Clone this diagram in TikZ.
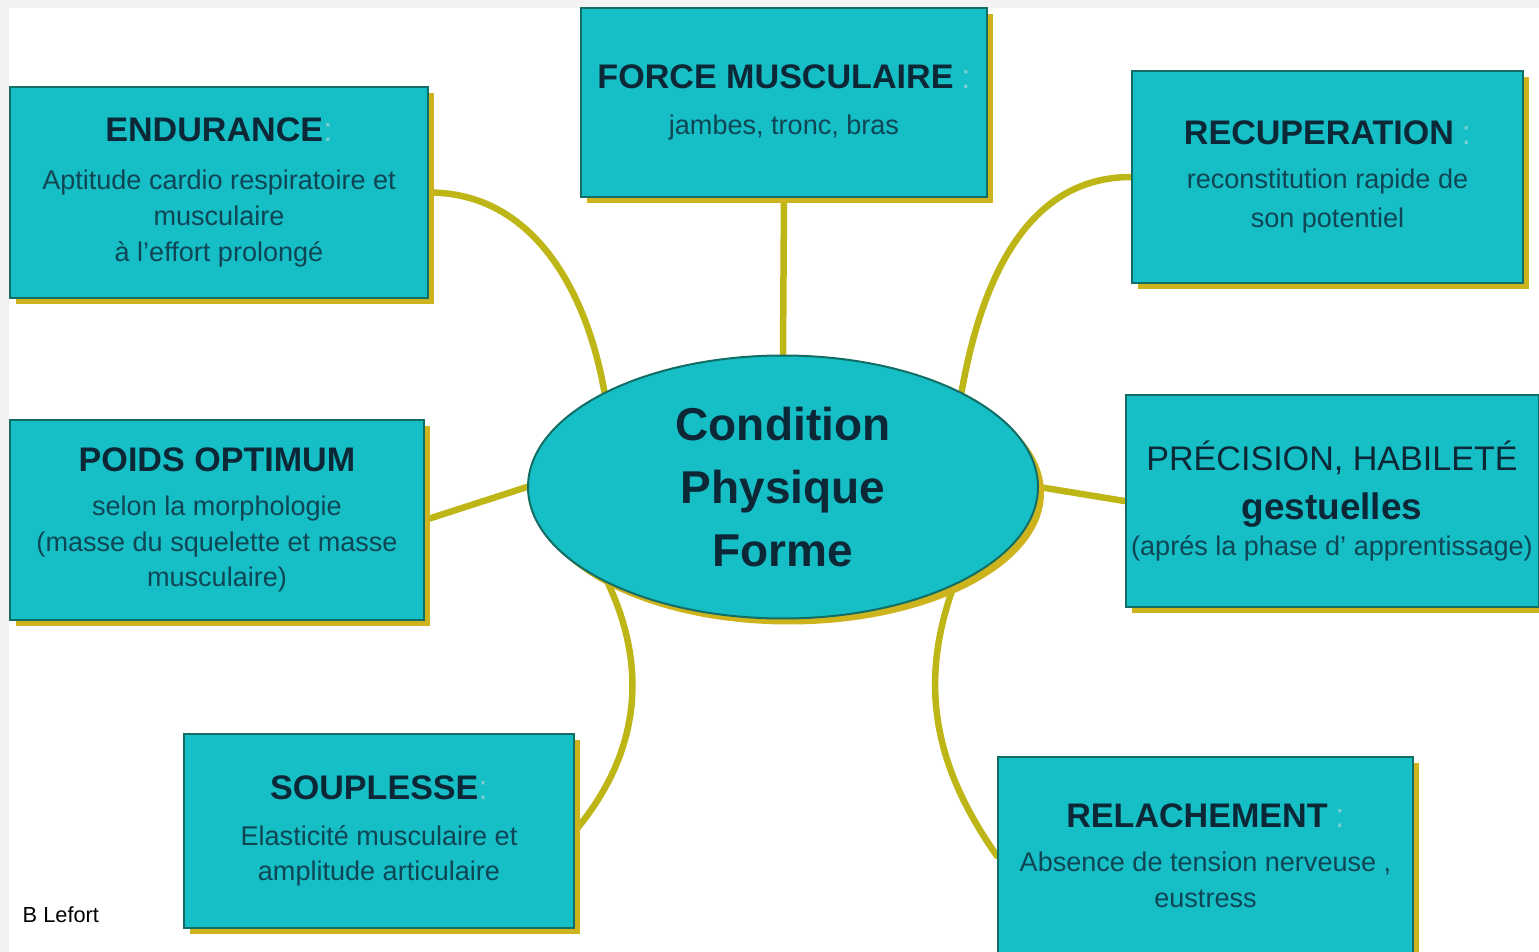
\documentclass[tikz,border=0pt]{standalone}
\usepackage{fontspec}
\setmainfont{Liberation Sans}
\usetikzlibrary{shapes.geometric,shadows,backgrounds}
\definecolor{boxfill}{RGB}{22,190,198}
\definecolor{boxline}{RGB}{18,110,100}
\definecolor{shadowc}{RGB}{205,180,30}
\definecolor{linkc}{RGB}{190,182,22}
\definecolor{titlec}{RGB}{12,40,55}
\definecolor{bodyc}{RGB}{15,70,85}
\definecolor{colonc}{RGB}{120,205,210}
\newcommand{\bodyfont}{\fontsize{7.7}{10.2}\selectfont}
\newcommand{\ttl}[1]{{\fontsize{9.7}{12}\selectfont\bfseries\color{titlec}#1}}
\newcommand{\cln}{{\fontsize{9.7}{12}\selectfont\color{colonc}:}}
\tikzset{
  themebox/.style={draw=boxline, line width=0.2mm, fill=boxfill, align=center, text=bodyc, font=\bodyfont, inner sep=0pt,
    drop shadow={shadow xshift=0.6mm, shadow yshift=-0.6mm, fill=shadowc, opacity=1}},
  link/.style={draw=linkc, line width=0.65mm, line cap=round},
}
\begin{document}
\begin{tikzpicture}[x=0.1mm,y=0.1mm]
    \useasboundingbox (0,0) rectangle (1539,-952);
    %% Centre
    \node[ellipse, draw=boxline, line width=0.2mm, fill=boxfill, minimum width=51mm, minimum height=26.3mm, inner sep=0pt,
      align=center, text=titlec, font=\fontsize{13.1}{17.9}\selectfont\bfseries,
      drop shadow={shadow xshift=0.6mm, shadow yshift=-0.6mm, fill=shadowc, opacity=1}] (forme) at (783,-487) {Condition\\Physique\\Forme};
    %% Boxes
    \node[themebox, minimum width=41.8mm, minimum height=21.1mm] (endurance) at (219,-192.5)
      {\ttl{ENDURANCE}\cln\\[3.5pt] Aptitude cardio respiratoire et\\ musculaire\\ à l'effort prolongé};
    \node[themebox, minimum width=40.6mm, minimum height=18.9mm] (force) at (784,-102.5)
      {\ttl{FORCE MUSCULAIRE} \cln\\[3pt] jambes, tronc, bras};
    \node[themebox, minimum width=39.1mm, minimum height=21.2mm] (recup) at (1327.5,-177)
      {\ttl{RECUPERATION} \cln\\[2.3pt] reconstitution rapide de\\[1pt] son potentiel};
    \node[themebox, minimum width=41.4mm, minimum height=20mm] (poids) at (217,-520)
      {\ttl{POIDS OPTIMUM}\\[2.3pt] selon la morphologie\\ (masse du squelette et masse\\ musculaire)};
    \node[themebox, minimum width=41.3mm, minimum height=21.2mm] (precis) at (1332,-501)
      {{\fontsize{9.7}{12}\selectfont\color{titlec}PRÉCISION, HABILETÉ}\\[3.8pt]
       {\fontsize{10.5}{12}\selectfont\bfseries\color{titlec}gestuelles}\\[0pt] (aprés la phase d' apprentissage)};
    \node[themebox, minimum width=39mm, minimum height=19.4mm] (souplesse) at (379,-831)
      {\ttl{SOUPLESSE}\cln\\[2.8pt] Elasticité musculaire et\\ amplitude articulaire};
    \node[themebox, minimum width=41.5mm, minimum height=19.8mm] (relache) at (1205.5,-856)
      {\ttl{RELACHEMENT} \cln\\[2.3pt] Absence de tension nerveuse ,\\ eustress};
    %% Credit
    \node[anchor=west, inner sep=0pt, font=\fontsize{6.2}{8}\selectfont] (credit) at (22,-915) {B Lefort};
    %% Links
    \begin{pgfonlayer}{background}
        \fill[black!5] (0,0) rectangle (1539,-952);
        \fill[white] (9,-8) rectangle (1539,-952);
        \draw[link] (endurance.east) to[out=0,in=100] (forme.152);
        \draw[link] (force.south) -- (forme.north);
        \draw[link] (recup.west) to[out=180,in=80] (forme.28);
        \draw[link] (poids.east) -- (forme.west);
        \draw[link] (forme.east) -- (precis.west);
        \draw[link] (forme.209) to[out=-65,in=50] (souplesse.east);
        \draw[link] (forme.-30) to[out=-110,in=125] (relache.west);
    \end{pgfonlayer}
\end{tikzpicture}
\end{document}
